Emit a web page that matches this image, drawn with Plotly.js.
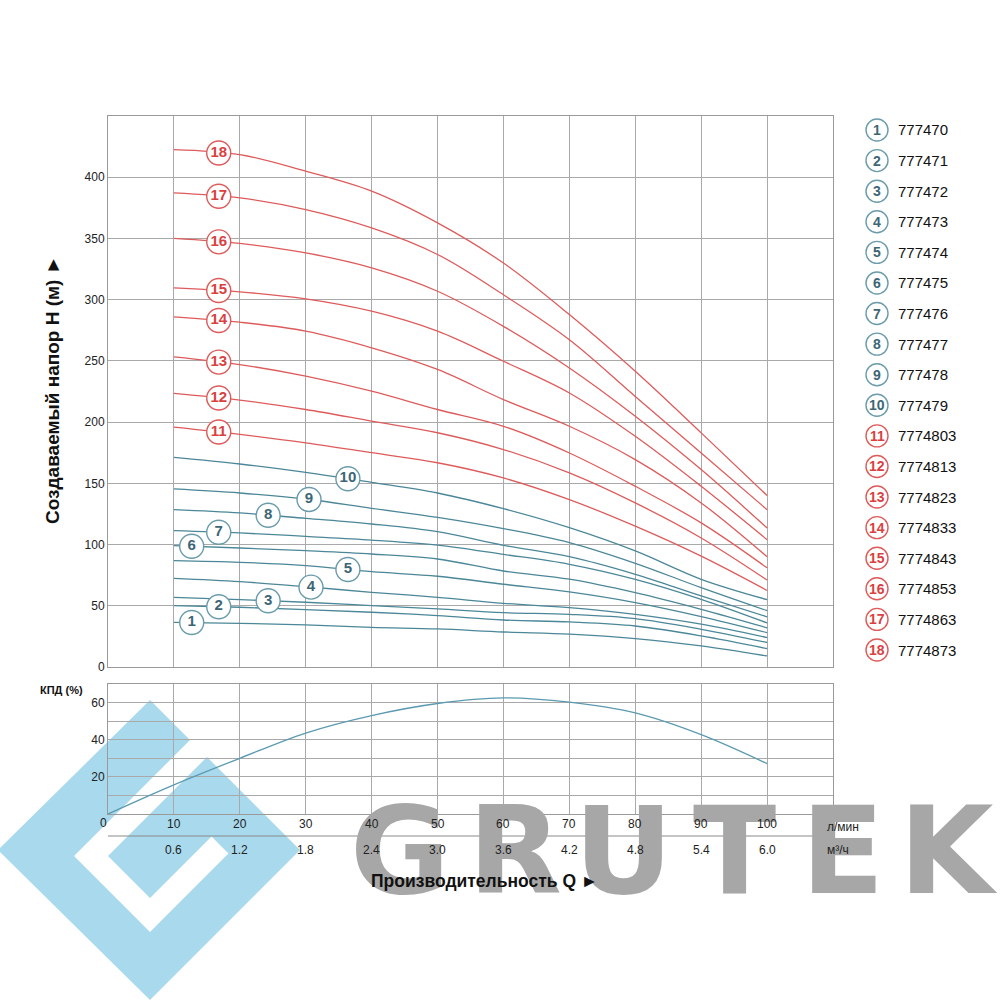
<!DOCTYPE html>
<html>
<head>
<meta charset="utf-8">
<script src="https://cdn.plot.ly/plotly-3.0.1.min.js"></script>
<style>html,body{margin:0;padding:0;background:#fff;}#chart{width:1000px;height:1000px;}</style>
</head>
<body>
<div id="chart"></div>
<script>
// ---------------- DATA ----------------
const flowLpm = [10, 20, 30, 40, 50, 60, 70, 80, 90, 100];           // Q, л/мин
const head1  = [36.5, 35.7, 34.4, 32.4, 31.1, 28.6, 26.8, 23.2, 17.2, 9];
const head2  = [50.1, 48.8, 46.9, 44.7, 42.0, 38.4, 36.8, 33.5, 25.4, 15];
const head3  = [56.9, 55.0, 52.9, 50.2, 47.4, 44.4, 43.0, 39.5, 30.8, 20];
const head4  = [72.4, 69.7, 65.6, 61.0, 56.9, 52.0, 48.5, 43.0, 35.0, 24];
const head5  = [86.9, 85.5, 82.8, 77.9, 74.1, 67.6, 61.3, 52.6, 41.2, 28];
const head6  = [99.1, 97.2, 95.0, 92.3, 88.2, 78.4, 71.7, 60.7, 47.1, 32];
const head7  = [111.4, 109.5, 106.7, 103.7, 99.6, 92.0, 83.9, 71.6, 55.3, 36];
const head8  = [128.5, 125.8, 121.4, 116.8, 110.5, 99.4, 90.1, 75.7, 58.0, 41];
const head9  = [145.4, 142.1, 137.2, 129.6, 122.2, 113.0, 101.6, 84.7, 64.8, 46];
const head10 = [171.2, 165.8, 159.0, 150.8, 142.1, 129.3, 113.8, 94.8, 71.6, 55];
const head11 = [195.9, 190.0, 183.1, 175.0, 166.8, 154.4, 136.7, 115.0, 90.5, 62.5];
const head12 = [223.4, 218.0, 210.3, 200.8, 191.3, 177.6, 158.5, 134.0, 105.4, 71];
const head13 = [253.3, 247.0, 237.6, 225.3, 210.3, 196.6, 174.8, 147.6, 117.7, 81];
const head14 = [286.0, 281.6, 274.3, 260.7, 243.0, 218.4, 196.6, 169.4, 134.0, 90];
const head15 = [309.7, 306.4, 300.7, 290.6, 274.3, 249.7, 223.8, 188.4, 147.6, 104];
const head16 = [350.0, 345.9, 338.2, 326.0, 306.9, 278.2, 244.2, 204.8, 161.2, 113.5];
const head17 = [387.2, 383.1, 373.6, 358.6, 336.9, 304.0, 267.3, 221.0, 174.8, 128.5];
const head18 = [422.6, 418.5, 404.9, 388.6, 362.7, 329.9, 287.8, 241.5, 191.2, 140];
const heads = [head1, head2, head3, head4, head5, head6, head7, head8, head9, head10,
               head11, head12, head13, head14, head15, head16, head17, head18];
const curveNumbers = ['1','2','3','4','5','6','7','8','9','10','11','12','13','14','15','16','17','18'];
const modelCodes = ['777470','777471','777472','777473','777474','777475','777476','777477','777478','777479',
                    '7774803','7774813','7774823','7774833','7774843','7774853','7774863','7774873'];

const effFlow = [0, 10, 20, 30, 40, 50, 60, 70, 80, 90, 100];
const effPct  = [0, 15.7, 30.0, 43.6, 53.0, 59.5, 62.5, 60.2, 54.4, 42.7, 27.1];

const lpmTicks = [10, 20, 30, 40, 50, 60, 70, 80, 90, 100];
const m3hLabels = ['0.6','1.2','1.8','2.4','3.0','3.6','4.2','4.8','5.4','6.0'];
const headTicks = [0, 50, 100, 150, 200, 250, 300, 350, 400];

// flow value where each numbered circle sits on its curve
const labelFlow = [12.7, 16.8, 24.3, 30.8, 36.4, 12.7, 16.8, 24.3, 30.5, 36.4,
                   16.8, 16.8, 16.8, 16.8, 16.8, 16.8, 16.8, 16.8];

// ---------------- STYLE ----------------
const RED = '#de5b5b', RED_TXT = '#d9413f';
const TEAL = '#4b8798', TEAL_TXT = '#3d6676', TEAL_RING = '#6b9cab';
const GRID = '#a9a9a9';
const FONT = 'Liberation Sans, Arial, sans-serif';
const L = 108, R = 833, T = 116, B = 814;
const px = x => (x - L) / (R - L);
const py = y => (B - y) / (B - T);

function interp(xs, ys, x) {
  for (let i = 0; i < xs.length - 1; i++) {
    if (x >= xs[i] && x <= xs[i+1]) {
      const t = (x - xs[i]) / (xs[i+1] - xs[i]);
      return ys[i] + t * (ys[i+1] - ys[i]);
    }
  }
  return ys[0];
}

const traces = [];
heads.forEach((h, i) => {
  traces.push({
    type: 'scatter', mode: 'lines', x: flowLpm, y: h, xaxis: 'x2', yaxis: 'y2',
    line: {color: i < 10 ? TEAL : RED, width: 1.3, shape: 'spline', smoothing: 1},
    hoverinfo: 'skip', showlegend: false
  });
});
heads.forEach((h, i) => {
  const isRed = i >= 10;
  traces.push({
    type: 'scatter', mode: 'markers+text', xaxis: 'x2', yaxis: 'y2',
    x: [labelFlow[i]], y: [interp(flowLpm, h, labelFlow[i])], text: [curveNumbers[i]],
    textposition: 'middle center',
    textfont: {family: FONT, size: 15, color: isRed ? RED_TXT : TEAL_TXT, weight: 'bold'},
    marker: {size: 24, color: '#fff', line: {color: isRed ? RED : TEAL_RING, width: 1.4}},
    hoverinfo: 'skip', showlegend: false, cliponaxis: false
  });
});
traces.push({
  type: 'scatter', mode: 'lines', x: effFlow, y: effPct, xaxis: 'x', yaxis: 'y',
  line: {color: '#5b9ab0', width: 1.3, shape: 'spline', smoothing: 1},
  hoverinfo: 'skip', showlegend: false
});

// ---------------- SHAPES & ANNOTATIONS ----------------
const shapes = [];
const annotations = [];
const LOGO = '#a8d9ec';
function pth(pts) { return 'M ' + pts.map(p => px(p[0]) + ',' + py(p[1])).join(' L '); }
// watermark logo
shapes.push({type: 'path', xref: 'paper', yref: 'paper', layer: 'below',
  path: pth([[-2, 850], [150, 700], [300, 850], [150, 1000]]) + ' Z',
  fillcolor: LOGO, line: {width: 0}});
shapes.push({type: 'path', xref: 'paper', yref: 'paper', layer: 'below',
  path: pth([[222, 725], [91, 856], [150, 915], [220, 845]]),
  fillcolor: 'rgba(0,0,0,0)', line: {color: '#ffffff', width: 24}});
// watermark text (drawn first so every other text lies on top of it)
const wmLetters = ['G', 'R', 'U', 'T', 'E', 'K'];
const wmX = [400, 515, 623, 734, 842, 948];
wmLetters.forEach((c, i) => annotations.push({
  xref: 'paper', yref: 'paper', x: px(wmX[i]), y: py(851), text: c, showarrow: false,
  xanchor: 'center', yanchor: 'middle',
  font: {family: 'DejaVu Sans, sans-serif', size: 122, color: '#a7a7a7', weight: 'bold'}
}));

shapes.push({type: 'line', xref: 'paper', yref: 'paper', x0: px(108), x1: px(833), y0: py(836), y1: py(836),
  line: {color: '#8a8a8a', width: 1}});
// flow tick labels (л/мин and м³/ч rows)
lpmTicks.forEach((q, i) => {
  annotations.push({xref: 'x', yref: 'paper', x: q, y: py(824), text: String(q), showarrow: false,
    xanchor: 'center', yanchor: 'middle', font: {family: FONT, size: 12, color: '#222'}});
  annotations.push({xref: 'x', yref: 'paper', x: q, y: py(850), text: m3hLabels[i], showarrow: false,
    xanchor: 'center', yanchor: 'middle', font: {family: FONT, size: 12, color: '#222'}});
});
annotations.push({xref: 'paper', yref: 'paper', x: px(103), y: py(823), text: '0', showarrow: false,
  xanchor: 'center', yanchor: 'middle', font: {family: FONT, size: 12, color: '#222'}});
annotations.push({xref: 'paper', yref: 'paper', x: px(825), y: py(827), text: 'л/мин', showarrow: false,
  xanchor: 'left', yanchor: 'middle', font: {family: FONT, size: 12, color: '#222'}});
annotations.push({xref: 'paper', yref: 'paper', x: px(825), y: py(850), text: 'м³/ч', showarrow: false,
  xanchor: 'left', yanchor: 'middle', font: {family: FONT, size: 12, color: '#222'}});
annotations.push({xref: 'paper', yref: 'paper', x: px(484), y: py(881), text: 'Производительность Q ►', showarrow: false,
  xanchor: 'center', yanchor: 'middle', font: {family: FONT, size: 17.5, color: '#111', weight: 'bold'}});
annotations.push({xref: 'paper', yref: 'paper', x: px(52), y: py(390), text: 'Создаваемый напор H (м) ►', showarrow: false,
  textangle: -90, xanchor: 'center', yanchor: 'middle', font: {family: FONT, size: 19, color: '#111', weight: 'bold'}});
annotations.push({xref: 'paper', yref: 'paper', x: px(61), y: py(690), text: 'КПД (%)', showarrow: false,
  xanchor: 'center', yanchor: 'middle', font: {family: FONT, size: 11, color: '#111', weight: 'bold'}});

// legend
modelCodes.forEach((code, i) => {
  const yc = 130 + i * (650 - 130) / 17;
  const isRed = i >= 10;
  shapes.push({type: 'circle', xref: 'paper', yref: 'paper',
    x0: px(866), x1: px(888), y0: py(yc + 11), y1: py(yc - 11),
    fillcolor: '#fff', line: {color: isRed ? RED : TEAL_RING, width: 1.4}});
  annotations.push({xref: 'paper', yref: 'paper', x: px(877), y: py(yc), text: curveNumbers[i], showarrow: false,
    xanchor: 'center', yanchor: 'middle',
    font: {family: FONT, size: 14, color: isRed ? RED_TXT : TEAL_TXT, weight: 'bold'}});
  annotations.push({xref: 'paper', yref: 'paper', x: px(896), y: py(yc), text: code, showarrow: false,
    xanchor: 'left', yanchor: 'middle', font: {family: FONT, size: 15, color: '#111'}});
});

const axisCommon = {showline: true, mirror: true, linecolor: '#9a9a9a', linewidth: 1,
  showgrid: true, gridcolor: GRID, gridwidth: 1, zeroline: false, ticks: '',
  tickfont: {family: FONT, size: 12, color: '#222'}, fixedrange: true};

const layout = {
  width: 1000, height: 1000,
  margin: {l: L, r: 1000 - R, t: T, b: 1000 - B},
  paper_bgcolor: '#ffffff', plot_bgcolor: 'rgba(0,0,0,0)',
  showlegend: false,
  xaxis: Object.assign({}, axisCommon, {domain: [0, 1], range: [0, 110], anchor: 'y',
    tickvals: lpmTicks, showticklabels: false}),
  yaxis: Object.assign({}, axisCommon, {domain: [0, py(684)], range: [0, 70], anchor: 'x',
    tickvals: [10, 20, 30, 40, 50, 60], ticktext: ['', '20', '', '40', '', '60']}),
  xaxis2: Object.assign({}, axisCommon, {domain: [0, 1], range: [0, 110], anchor: 'y2',
    tickvals: lpmTicks, showticklabels: false}),
  yaxis2: Object.assign({}, axisCommon, {domain: [py(667), 1], range: [0, 450], anchor: 'x2',
    tickvals: headTicks, ticktext: headTicks.map(String)}),
  shapes: shapes,
  annotations: annotations
};

Plotly.newPlot('chart', traces, layout, {staticPlot: true, displayModeBar: false});
</script>
</body>
</html>
